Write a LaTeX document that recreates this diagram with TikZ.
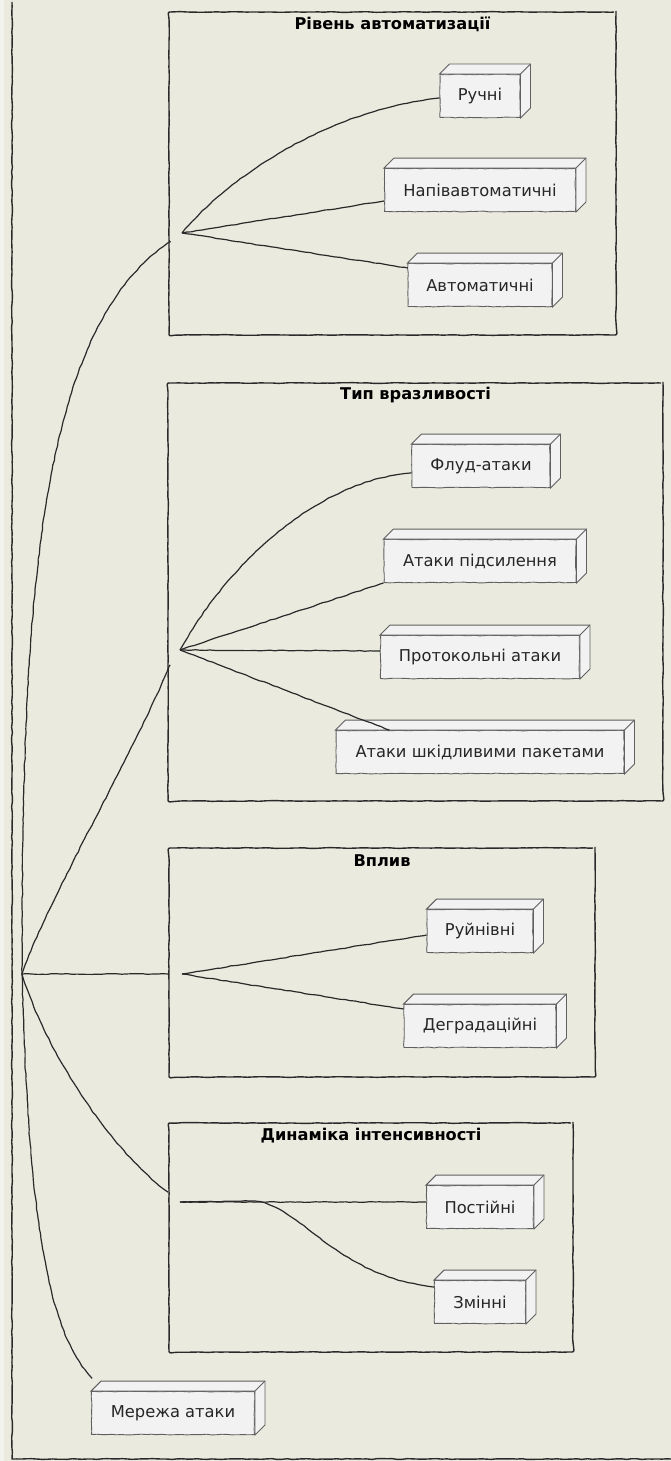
\documentclass[tikz,border=0pt]{standalone}
\usepackage{fontspec}
\setmainfont{DejaVu Sans}
\usetikzlibrary{decorations.pathmorphing}
\definecolor{bg}{HTML}{EBEADF}
\definecolor{margin}{HTML}{F3F3EE}
\definecolor{boxfill}{HTML}{F2F2F2}
\definecolor{boxline}{HTML}{606060}
\definecolor{ink}{HTML}{2A2A2A}
\tikzset{
  sketch/.style={decorate, decoration={random steps, segment length=5pt, amplitude=0.4pt}},
  frame/.style={draw=ink, line width=1.4pt, sketch, rounded corners=2pt, inner sep=0pt},
  itembox/.style={draw=boxline, fill=boxfill, line width=0.9pt, sketch, inner sep=0pt,
    minimum height=43pt, font=\fontsize{16.3}{19}\selectfont, text=black!85},
  ftitle/.style={font=\bfseries\fontsize{16.2}{19}\selectfont, text=black, inner sep=0pt},
  link/.style={draw=ink, line width=1.2pt, sketch},
  face/.style={draw=boxline, fill=boxfill, line width=0.9pt},
}
\newcommand\mkcube[1]{%
  \filldraw[face] (#1.north west) -- ([shift={(10pt,10pt)}]#1.north west)
    -- ([shift={(10pt,10pt)}]#1.north east) -- ([shift={(10pt,10pt)}]#1.south east)
    -- (#1.south east) -- (#1.north east) -- cycle;
  \draw[face] (#1.north east) -- ([shift={(10pt,10pt)}]#1.north east);
}
\begin{document}
\begin{tikzpicture}[x=1pt,y=-1pt]
\pgfmathsetseed{7}
\useasboundingbox (0,0) rectangle (671,1461);
\fill[bg] (0,0) rectangle (671,1461);
\fill[margin] (0,0) rectangle (4,1461);

% outer package border (cropped)
\coordinate (otop) at (12,2);
\coordinate (ocorner) at (12,1459);
\coordinate (oright) at (671,1459);
\draw[link, line width=1.4pt] (otop) -- (ocorner) -- (oright);

% frames
\node[frame, minimum width=447, minimum height=323] (f1) at (392.5,173.5) {};
\node[frame, minimum width=495, minimum height=418] (f2) at (415.5,592) {};
\node[frame, minimum width=426, minimum height=229] (f3) at (382,962.5) {};
\node[frame, minimum width=404, minimum height=229] (f4) at (371,1237.5) {};
\node[ftitle] (t1) at (392.5,24) {Рівень автоматизації};
\node[ftitle] (t2) at (415.5,395) {Тип вразливості};
\node[ftitle] (t3) at (382,861) {Вплив};
\node[ftitle] (t4) at (371,1136) {Динаміка інтенсивності};

% boxes
\node[itembox, minimum width=80]  (ruchni) at (480,96) {Ручні};
\node[itembox, minimum width=191] (napiv)  at (480,190) {Напівавтоматичні};
\node[itembox, minimum width=144] (avto)   at (480,285) {Автоматичні};
\node[itembox, minimum width=138] (flud)   at (481,466) {Флуд-атаки};
\node[itembox, minimum width=192] (pidsyl) at (480,561) {Атаки підсилення};
\node[itembox, minimum width=199] (protok) at (480,657) {Протокольні атаки};
\node[itembox, minimum width=288] (shkid)  at (480,752) {Атаки шкідливими пакетами};
\node[itembox, minimum width=106] (ruin)   at (480,931) {Руйнівні};
\node[itembox, minimum width=152] (degr)   at (480,1026) {Деградаційні};
\node[itembox, minimum width=107] (post)   at (480,1207) {Постійні};
\node[itembox, minimum width=91]  (zmin)   at (480,1302) {Змінні};
\node[itembox, minimum width=163] (mer)    at (173,1413) {Мережа атаки};
\foreach \n in {ruchni,napiv,avto,flud,pidsyl,protok,shkid,ruin,degr,post,zmin,mer}{\mkcube{\n}}

% hubs and frame entry points
\coordinate (hub) at (22,974);
\coordinate (e1) at (170,242);
\coordinate (e2) at (170,665);
\coordinate (e3) at (169,974);
\coordinate (e4) at (168,1192);
\coordinate (h1) at (182,233);
\coordinate (h2) at (180,650);
\coordinate (h3) at (182,974);
\coordinate (h4) at (180,1202);

% outer connectors
\draw[link] (hub) .. controls (22,620) and (35,330) .. (e1);
\draw[link] (hub) .. controls (45,905) and (130,760) .. (e2);
\draw[link] (hub) -- (e3);
\draw[link] (hub) .. controls (45,1050) and (110,1150) .. (e4);
\draw[link] (hub) .. controls (28,1200) and (45,1330) .. ([shift={(1pt,13pt)}]mer.north west);

% frame 1
\draw[link] (h1) .. controls (230,175) and (330,110) .. ([yshift=-2pt]ruchni.west);
\draw[link] (h1) -- ([yshift=-11pt]napiv.west);
\draw[link] (h1) -- ([yshift=17pt]avto.west);
% frame 2
\draw[link] (h2) .. controls (230,560) and (320,480) .. ([yshift=-7pt]flud.west);
\draw[link] (h2) -- (pidsyl.south west);
\draw[link] (h2) -- ([yshift=6pt]protok.west);
\draw[link] (h2) -- ([xshift=54pt]shkid.north west);
% frame 3
\draw[link] (h3) -- ([yshift=-4pt]ruin.west);
\draw[link] (h3) -- ([yshift=17pt]degr.west);
% frame 4
\draw[link] (h4) -- ([yshift=5pt]post.west);
\draw[link] (h4) -- (250,1201) .. controls (300,1201) and (330,1275) .. ([yshift=15pt]zmin.west);
\end{tikzpicture}
\end{document}
